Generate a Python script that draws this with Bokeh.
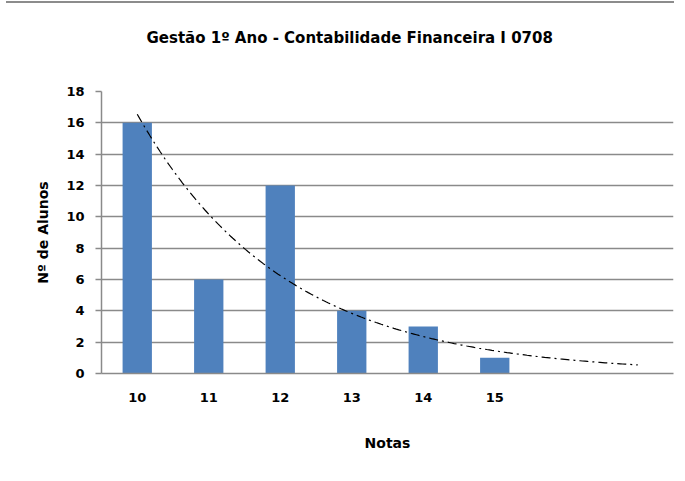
import numpy as np
from bokeh.plotting import figure
from bokeh.models import Range1d, FixedTicker, ColumnDataSource, Title
from bokeh.embed import file_html
from bokeh.resources import INLINE

# Data
notas = [10, 11, 12, 13, 14, 15]
alunos = [16, 6, 12, 4, 3, 1]
forecast_forward = 2  # trendline forecast periods
title_text = "Gestão 1º Ano - Contabilidade Financeira I 0708"
x_label = "Notas"
y_label = "Nº de Alunos"

FONT = "DejaVu Sans"
GRID = "#8a8a8a"

p = figure(width=670, height=484, output_backend="svg", toolbar_location=None,
           x_range=Range1d(9.5, 17.5), y_range=Range1d(0, 18),
           min_border_left=93, min_border_right=5, min_border_top=0, min_border_bottom=92)
p.title = None
t = Title(text=title_text, align="left", offset=45, text_font=FONT, text_font_size="15px",
          text_font_style="bold", text_color="#000000", standoff=90)
p.add_layout(t, "above")

src = ColumnDataSource(dict(x=notas, top=alunos))
p.vbar(x="x", top="top", width=0.41, bottom=0, source=src, fill_color="#4F81BD", line_color=None)

# Exponential trendline (least squares on ln y, as Excel does)
idx = np.arange(1, len(alunos) + 1)
b, lna = np.polyfit(idx, np.log(alunos), 1)
tx = np.linspace(1, len(alunos) + forecast_forward, 200)
ty = np.exp(lna) * np.exp(b * tx)
p.line(tx + notas[0] - 1, ty, line_color="#000000", line_width=1.2, line_dash="9 4 2 4")

p.border_fill_color = None
p.background_fill_color = "#ffffff"
p.outline_line_color = None
p.xgrid.grid_line_color = None
p.ygrid.grid_line_color = GRID
p.ygrid.grid_line_width = 1.5
p.yaxis.ticker = FixedTicker(ticks=list(range(0, 19, 2)))
p.xaxis.ticker = FixedTicker(ticks=notas)

for ax in (p.xaxis[0], p.yaxis[0]):
    ax.axis_line_color = GRID
    ax.axis_line_width = 1.5
    ax.major_tick_line_color = GRID
    ax.major_tick_line_width = 1.5
    ax.minor_tick_line_color = None
    ax.major_label_text_font = FONT
    ax.major_label_text_font_style = "bold"
    ax.major_label_text_font_size = "13px"
    ax.major_label_text_color = "#000000"
    ax.axis_label_text_font = FONT
    ax.axis_label_text_font_style = "bold"
    ax.axis_label_text_font_size = "14px"
    ax.axis_label_text_color = "#000000"

p.yaxis.major_tick_out = 6
p.yaxis.major_tick_in = 0
p.xaxis.major_tick_out = 0
p.xaxis.major_tick_in = 0
p.yaxis.major_label_standoff = 11
p.xaxis.major_label_standoff = 19
p.xaxis.axis_label = x_label
p.yaxis.axis_label = y_label
p.xaxis.axis_label_standoff = 30
p.yaxis.axis_label_standoff = 12

# Chart-area border (left and top), drawn behind the transparent canvas
p.styles = {"border-left": "2px solid transparent",
            "margin-left": "6px", "margin-top": "-19px",
            "background": "linear-gradient(#8c8c8c, #8c8c8c) no-repeat -2px 20px / 100% 2px border-box, "
                          "linear-gradient(#8c8c8c, #8c8c8c) no-repeat -2px 20px / 2px 100% border-box, #ffffff"}

open("out.html", "w").write(file_html(p, INLINE))
